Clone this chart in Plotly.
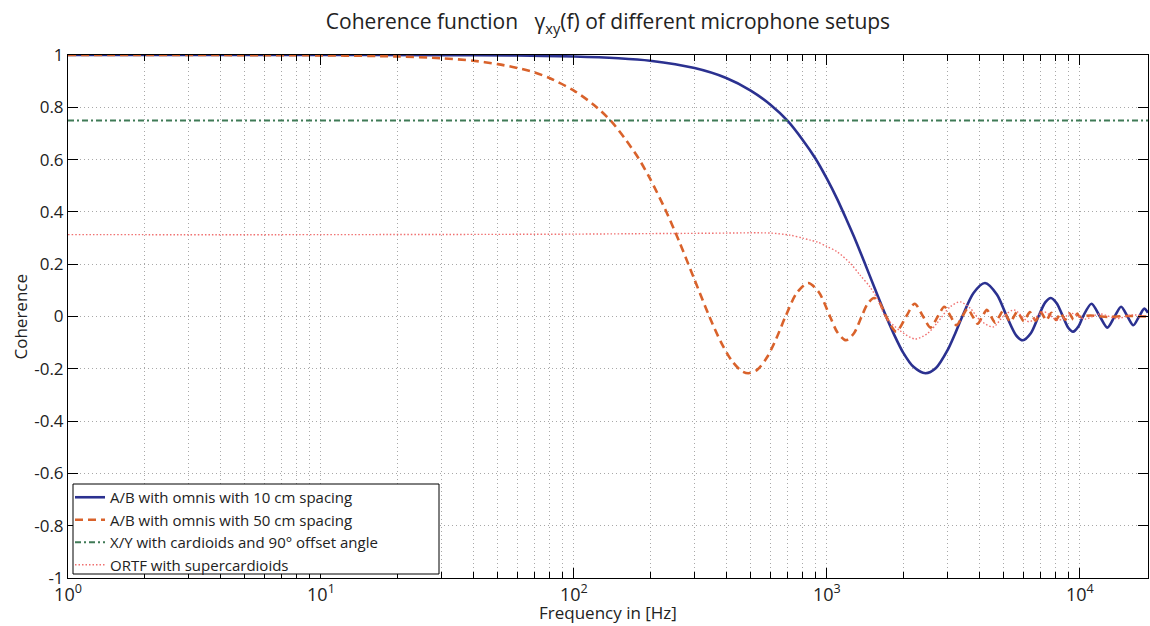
import math
import plotly.graph_objects as go

# ---------------- data ----------------
ab10_f = [1, 10, 30, 60, 100, 150, 200, 300, 400, 500, 600, 700, 800, 900, 1000,
          1100, 1200, 1300, 1400, 1550, 1715, 1850, 2000, 2200, 2453, 2700, 3000,
          3200, 3430, 3800, 4218, 4700, 5145, 5600, 5952, 6400, 6860, 7300, 7680,
          8100, 8575, 9000, 9400, 9900, 10290, 11120, 12005, 12840, 13720, 14560,
          15435, 16275, 17150, 17990, 18600]
ab10_c = [1.0, 1.0, 0.9995, 0.998, 0.9944, 0.9875, 0.978, 0.950, 0.912, 0.864,
          0.809, 0.748, 0.677, 0.605, 0.527, 0.448, 0.367, 0.290, 0.213, 0.105,
          0.0, -0.072, -0.137, -0.1925, -0.217, -0.197, -0.129, -0.070, 0.0, 0.090,
          0.128, 0.084, 0.0, -0.072, -0.091, -0.064, 0.0, 0.054, 0.071, 0.051,
          0.0, -0.043, -0.058, -0.036, 0.0, 0.049, 0.0, -0.0425, 0.0, 0.0375,
          0.0, -0.0335, 0.0, 0.030, 0.014]

ab50_f = [1, 10, 20, 30, 40, 50, 60, 70, 80, 100, 120, 140, 160, 180, 200, 230,
          260, 300, 343, 380, 420, 460, 490, 530, 580, 630, 686, 760, 844, 930,
          1029, 1100, 1190, 1280, 1372, 1450, 1536, 1620, 1715, 1880, 2058, 2224,
          2401, 2568, 2744, 2912, 3087, 3255, 3430, 3600, 3773, 3945, 4116, 4290,
          4459, 4630, 4802, 4975, 5145, 5317, 5488, 5660, 5831, 6003, 6174, 6346,
          6517, 6689, 6860, 7030, 7200, 7370, 7545, 7715, 7890, 8060, 8230, 8400,
          8575, 8745, 8920, 9090, 9260, 9430, 9600, 9775, 9950, 11000, 13000,
          15000, 18600]
ab50_c = [1.0, 0.9986, 0.9944, 0.9875, 0.978, 0.965, 0.950, 0.933, 0.912, 0.864,
          0.809, 0.748, 0.677, 0.605, 0.527, 0.408, 0.290, 0.140, 0.0, -0.095,
          -0.168, -0.2085, -0.217, -0.204, -0.156, -0.086, 0.0, 0.090, 0.128,
          0.0925, 0.0, -0.060, -0.091, -0.064, 0.0, 0.049, 0.071, 0.051, 0.0,
          -0.058, 0.0, 0.049, 0.0, -0.0425, 0.0, 0.0375, 0.0, -0.0335, 0.0, 0.030,
          0.0, -0.0277, 0.0, 0.0255, 0.0, -0.0236, 0.0, 0.022, 0.0, -0.0206, 0.0,
          0.0194, 0.0, -0.0183, 0.0, 0.0173, 0.0, -0.0164, 0.0, 0.0156, 0.0,
          -0.0149, 0.0, 0.0142, 0.0, -0.0136, 0.0, 0.013, 0.0, -0.0125, 0.0,
          0.012, 0.0, -0.0116, 0.0, 0.0112, 0.0, 0.004, -0.002, 0.002, 0.0]

xy_f = [1, 18600]
xy_c = [0.75, 0.75]

ortf_f = [1, 10, 100, 200, 300, 400, 500, 600, 716, 800, 859, 916, 1000, 1100,
          1236, 1354, 1480, 1600, 1700, 1950, 2234, 2500, 2722, 3071, 3364, 3683,
          4034, 4542, 4976, 5500, 6300, 7200, 8200, 9300, 10500, 12000, 14000,
          16000, 18600]
ortf_c = [0.313, 0.313, 0.315, 0.317, 0.318, 0.319, 0.32, 0.319, 0.311, 0.300,
          0.292, 0.285, 0.268, 0.247, 0.204, 0.158, 0.113, 0.060, 0.0, -0.055,
          -0.086, -0.065, -0.026, 0.037, 0.056, 0.032, -0.014, -0.04, 0.0, 0.025,
          -0.02, 0.018, -0.015, 0.012, -0.01, 0.01, -0.008, 0.006, 0.0]

names = ["A/B with omnis with 10 cm spacing",
         "A/B with omnis with 50 cm spacing",
         "X/Y with cardioids and 90° offset angle",
         "ORTF with supercardioids"]

x_tick_vals = [1, 10, 100, 1000, 10000]
x_tick_text = ["10<sup>0</sup>", "10<sup>1</sup>", "10<sup>2</sup>",
               "10<sup>3</sup>", "10<sup>4</sup>"]
y_tick_vals = [-1, -0.8, -0.6, -0.4, -0.2, 0, 0.2, 0.4, 0.6, 0.8, 1]
y_tick_text = ["-1", "-0.8", "-0.6", "-0.4", "-0.2", "0", "0.2", "0.4", "0.6", "0.8", "1"]
x_max = 18600

# ---------------- figure ----------------
FONT = "Open Sans"
TXT = "#222222"
fig = go.Figure()
fig.add_trace(go.Scatter(x=ab10_f, y=ab10_c, name=names[0], mode="lines",
                         line=dict(color="#2b3190", width=2.6, shape="spline", smoothing=0.8)))
fig.add_trace(go.Scatter(x=ab50_f, y=ab50_c, name=names[1], mode="lines",
                         line=dict(color="#d9622b", width=2.6, dash="8px,5px",
                                   shape="spline", smoothing=0.8)))
fig.add_trace(go.Scatter(x=xy_f, y=xy_c, name=names[2], mode="lines",
                         line=dict(color="#3f7a56", width=2, dash="6px,3px,2px,3px")))
fig.add_trace(go.Scatter(x=ortf_f, y=ortf_c, name=names[3], mode="lines",
                         line=dict(color="#f07070", width=1.4, dash="1.5px,2px",
                                   shape="spline", smoothing=0.8)))

minor_x = [m * 10 ** d for d in range(0, 5) for m in range(2, 10) if m * 10 ** d <= x_max]

grid_col = "#a8a8a8"
fig.update_xaxes(type="log", range=[0, math.log10(x_max)], automargin=False,
                 tickvals=x_tick_vals, ticktext=x_tick_text,
                 ticks="inside", ticklen=10, tickcolor="black", tickwidth=1,
                 showline=True, linecolor="black", linewidth=1, mirror="ticks",
                 showgrid=True, gridcolor=grid_col, griddash="1px,3px", gridwidth=1,
                 minor=dict(tickvals=minor_x, ticks="inside", ticklen=6,
                            tickcolor="black", showgrid=True, gridcolor=grid_col,
                            griddash="1px,3px", gridwidth=1),
                 tickfont=dict(family=FONT, size=18, color=TXT),
                 zeroline=False)
fig.update_yaxes(range=[-1, 1], automargin=False,
                 tickvals=y_tick_vals, ticktext=y_tick_text,
                 ticks="inside", ticklen=10, tickcolor="black", tickwidth=1,
                 showline=True, linecolor="black", linewidth=1, mirror="ticks",
                 showgrid=True, gridcolor=grid_col, griddash="1px,3px", gridwidth=1,
                 tickfont=dict(family=FONT, size=17, color=TXT),
                 zeroline=False)

L, R, T, B = 68, 2, 55, 48
plot_w = 1150 - L - R
plot_h = 626 - T - B


def px_x(px):
    return (px - L) / plot_w


def px_y(py):
    return (626 - B - py) / plot_h


fig.update_layout(
    width=1150, height=626,
    margin=dict(l=L, r=R, t=T, b=B, autoexpand=False),
    paper_bgcolor="white", plot_bgcolor="white",
    font=dict(family=FONT, color=TXT),
    title=dict(text="Coherence function   γ<sub>xy</sub>(f) of different microphone setups",
               x=0.5, xref="paper", xanchor="center", y=0.965, yref="container",
               yanchor="middle", font=dict(family=FONT, size=21, color=TXT)),
    legend=dict(x=px_x(70), y=px_y(481), xanchor="left", yanchor="top",
                bgcolor="rgba(0,0,0,0)", borderwidth=0,
                font=dict(family=FONT, size=15, color=TXT),
                tracegroupgap=0, itemwidth=30),
    showlegend=True,
    shapes=[dict(type="rect", xref="paper", yref="paper",
                 x0=px_x(73), x1=px_x(439), y0=px_y(574), y1=px_y(484),
                 fillcolor="white", line=dict(color="black", width=1), layer="above")],
    annotations=[
        dict(text="Frequency in [Hz]", x=0.5, xref="paper", y=px_y(612), yref="paper",
             showarrow=False, font=dict(family=FONT, size=17, color=TXT),
             xanchor="center", yanchor="middle"),
        dict(text="Coherence", x=px_x(20), y=0.5, xref="paper", yref="paper",
             showarrow=False, textangle=-90, font=dict(family=FONT, size=17, color=TXT),
             xanchor="center", yanchor="middle"),
    ],
)

fig.write_html("out.html", config={"displayModeBar": False},
               post_script="document.body.style.margin='0';document.body.style.overflow='hidden';")
